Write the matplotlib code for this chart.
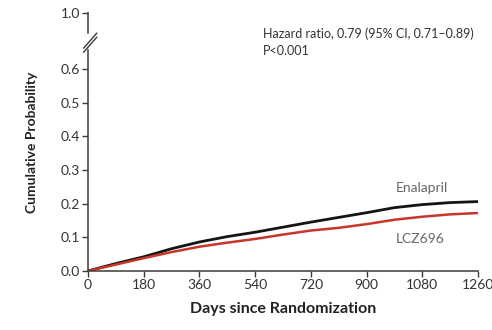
import matplotlib
matplotlib.use('Agg')
import matplotlib.pyplot as plt

plt.rcParams['font.family'] = ['Lato', 'DejaVu Sans']

dias = [0, 90, 180, 270, 360, 450, 540, 630, 720, 810, 900, 990, 1080, 1170, 1260]
enalapril = [0, 0.022, 0.042, 0.066, 0.086, 0.102, 0.115, 0.130, 0.145, 0.159, 0.173, 0.188, 0.197, 0.203, 0.206]
lcz696 = [0, 0.019, 0.038, 0.056, 0.072, 0.084, 0.095, 0.108, 0.120, 0.128, 0.139, 0.152, 0.161, 0.168, 0.172]

xticks = [0, 180, 360, 540, 720, 900, 1080, 1260]
yticks = [0.0, 0.1, 0.2, 0.3, 0.4, 0.5, 0.6]
y_uno = 0.766  # posición donde se dibuja 1.0 tras el corte del eje

gris = '#3a3a3a'

fig = plt.figure(figsize=(4.92, 3.30), dpi=100)
ax = fig.add_axes([0.179, 0.179, 0.7925, 0.7815])

ax.plot(dias, enalapril, color='#141414', lw=2.0)
ax.plot(dias, lcz696, color='#c8352a', lw=1.8)

ax.set_xlim(0, 1260)
ax.set_ylim(0, y_uno)
ax.set_xticks(xticks)
ax.set_xticklabels([str(t) for t in xticks])
ax.set_yticks(yticks + [y_uno])
ax.set_yticklabels(['%.1f' % t for t in yticks] + ['1.0'])

for s in ['top', 'right']:
    ax.spines[s].set_visible(False)
ax.spines['bottom'].set_color(gris)
ax.spines['left'].set_color(gris)
ax.spines['bottom'].set_linewidth(1.1)
ax.spines['left'].set_linewidth(1.1)
ax.spines['left'].set_bounds(0, 0.656)

# tramo superior del eje y marcas del corte
ax.plot([0, 0], [0.707, y_uno], color=gris, lw=1.1, clip_on=False)
for dy in [0.0, 0.012]:
    ax.plot([-14, 28], [0.650 + dy, 0.694 + dy], color=gris, lw=1.0, clip_on=False)

ax.tick_params(colors=gris, labelcolor='#333333', labelsize=10, length=4, width=1.0, direction='out')
ax.tick_params(axis='x', pad=2)
ax.tick_params(axis='y', pad=2)

ax.set_xlabel('Days since Randomization', fontsize=11.5, fontweight='bold', color='#222222', labelpad=8)
ax.set_ylabel('Cumulative Probability', fontsize=10, fontweight='bold', color='#222222', labelpad=16)

ax.text(565, 0.705, 'Hazard ratio, 0.79 (95% CI, 0.71\u20130.89)', fontsize=9, color='#333333', va='center')
ax.text(565, 0.652, 'P<0.001', fontsize=9, color='#333333', va='center')

ax.text(995, 0.245, 'Enalapril', fontsize=10, color='#666666', va='center')
ax.text(995, 0.095, 'LCZ696', fontsize=10, color='#666666', va='center')

fig.savefig('out.png', dpi=100)
